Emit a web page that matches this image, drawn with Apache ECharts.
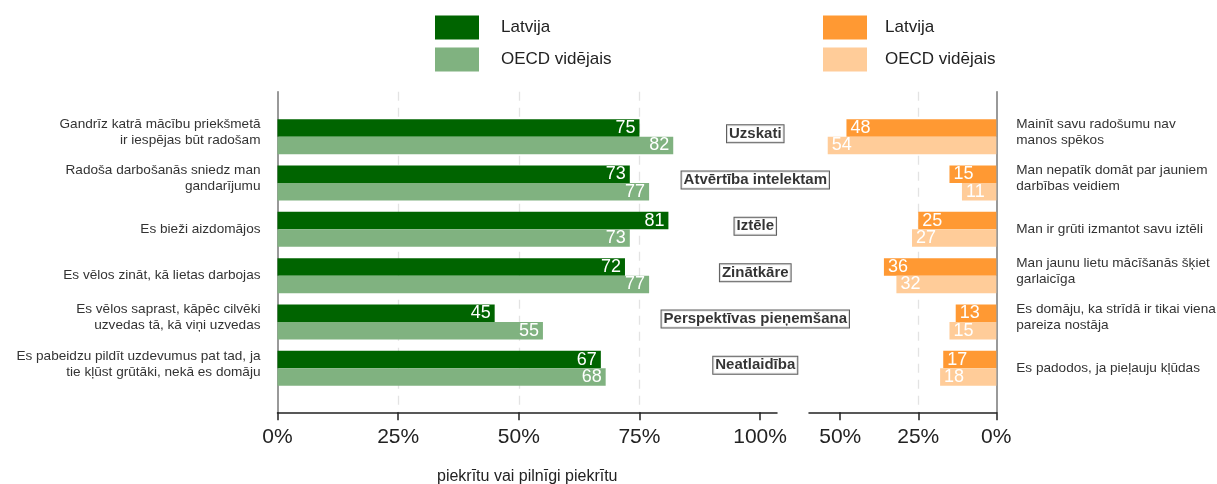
<!DOCTYPE html>
<html>
<head>
<meta charset="utf-8">
<script src="https://cdn.jsdelivr.net/npm/echarts@6/dist/echarts.min.js"></script>
<style>
  html, body { margin: 0; padding: 0; background: #fff; }
  #chart { width: 1217px; height: 484px; }
</style>
</head>
<body>
<div id="chart"></div>
<script>
// pozitīvie apgalvojumi (kreisā puse)
const posStatements = [
    'Gandrīz katrā mācību priekšmetā\nir iespējas būt radošam',
    'Radoša darbošanās sniedz man\ngandarījumu',
    'Es bieži aizdomājos',
    'Es vēlos zināt, kā lietas darbojas',
    'Es vēlos saprast, kāpēc cilvēki\nuzvedas tā, kā viņi uzvedas',
    'Es pabeidzu pildīt uzdevumus pat tad, ja\ntie kļūst grūtāki, nekā es domāju'
];
const posLatvija = [75, 73, 81, 72, 45, 67];
const posOecd = [82, 77, 73, 77, 55, 68];

// negatīvie apgalvojumi (labā puse)
const negStatements = [
    'Mainīt savu radošumu nav\nmanos spēkos',
    'Man nepatīk domāt par jauniem\ndarbības veidiem',
    'Man ir grūti izmantot savu iztēli',
    'Man jaunu lietu mācīšanās šķiet\ngarlaicīga',
    'Es domāju, ka strīdā ir tikai viena\npareiza nostāja',
    'Es padodos, ja pieļauju kļūdas'
];
const negLatvija = [48, 15, 25, 36, 13, 17];
const negOecd = [54, 11, 27, 32, 15, 18];

// dimensiju nosaukumi vidū
const dimensions = ['Uzskati', 'Atvērtība intelektam', 'Iztēle', 'Zinātkāre', 'Perspektīvas pieņemšana', 'Neatlaidība'];

const leftTicks = [0, 25, 50, 75, 100];
const rightTicks = [0, 25, 50];

const GREEN = '#006400';
const GREEN_LIGHT = '#80b280';
const ORANGE = '#ff9933';
const ORANGE_LIGHT = '#ffcc99';
const SANS = "'Liberation Sans', Arial, sans-serif";

const chart = echarts.init(document.getElementById('chart'));

const splitLine = {
    show: true,
    showMinLine: false,
    showMaxLine: false,
    lineStyle: { color: '#e3e3e3', width: 1.3, type: [9, 7] }
};

// divrindu etiķetes nedaudz paceltas uz augšu
function statementLabel(v) {
    return v.indexOf('\n') >= 0 ? v + '\n{s| }' : v;
}

function axisGridX(gridIndex, max, inverse, ticks, withName) {
    return {
        type: 'value',
        gridIndex: gridIndex,
        min: 0,
        max: max,
        inverse: inverse,
        position: 'bottom',
        axisLine: { show: true, lineStyle: { color: '#222', width: 1.5 } },
        axisTick: { show: true, length: 8, customValues: ticks, lineStyle: { color: '#222', width: 1.5 } },
        axisLabel: {
            customValues: ticks,
            formatter: v => v + '%',
            fontFamily: SANS,
            fontSize: 21,
            color: '#222',
            margin: 14
        },
        splitLine: Object.assign({}, splitLine, { customValues: ticks }),
        name: withName ? 'piekrītu vai pilnīgi piekrītu' : '',
        nameLocation: 'middle',
        nameGap: 56,
        nameTextStyle: { fontFamily: SANS, fontSize: 16, color: '#222' }
    };
}

function dataGridX(gridIndex, max, inverse) {
    return {
        type: 'value', gridIndex: gridIndex, min: 0, max: max, inverse: inverse,
        show: false, splitLine: { show: false }
    };
}

const barLabel = (pos) => ({
    show: true,
    position: pos,
    distance: 4,
    color: '#fff',
    fontFamily: SANS,
    fontSize: 18
});

const catLabel = (margin, align) => ({
    margin: margin,
    fontFamily: SANS,
    fontSize: 13.6,
    lineHeight: 16,
    color: '#333',
    align: align,
    formatter: statementLabel,
    rich: { s: { fontSize: 6, lineHeight: 9 } }
});

const gridBase = { outerBoundsMode: 'none', containLabel: false };

const option = {
    backgroundColor: '#fff',
    animation: false,
    legend: [
        {
            left: 435, top: 15.5, orient: 'vertical', padding: 0,
            icon: 'rect', itemWidth: 44, itemHeight: 24, itemGap: 8,
            selectedMode: false,
            textStyle: { fontFamily: SANS, fontSize: 17, color: '#222', padding: [0, 0, 0, 17] },
            data: [
                { name: 'Latvija', itemStyle: { color: GREEN } },
                { name: 'OECD vidējais', itemStyle: { color: GREEN_LIGHT } }
            ]
        },
        {
            left: 823, top: 15.5, orient: 'vertical', padding: 0,
            icon: 'rect', itemWidth: 44, itemHeight: 24, itemGap: 8,
            selectedMode: false,
            textStyle: { fontFamily: SANS, fontSize: 17, color: '#222', padding: [0, 0, 0, 13] },
            data: [
                { name: 'Latvija', itemStyle: { color: ORANGE } },
                { name: 'OECD vidējais', itemStyle: { color: ORANGE_LIGHT } }
            ]
        }
    ],
    grid: [
        // asu režģi
        Object.assign({ left: 277.5, width: 499.5, top: 91.7, height: 320.6 }, gridBase),
        Object.assign({ left: 809, width: 187.3, top: 91.7, height: 320.6 }, gridBase),
        // datu režģi
        Object.assign({ left: 277.5, width: 499.5, top: 113.5, height: 278 }, gridBase),
        Object.assign({ left: 809, width: 187.3, top: 113.5, height: 278 }, gridBase)
    ],
    xAxis: [
        axisGridX(0, 103.5, false, leftTicks, true),
        axisGridX(1, 60, true, rightTicks, false),
        dataGridX(2, 103.5, false),
        dataGridX(3, 60, true)
    ],
    yAxis: [
        {
            type: 'value', gridIndex: 0, position: 'left',
            axisLine: { show: true, lineStyle: { color: '#777', width: 1.5 } },
            axisTick: { show: false }, axisLabel: { show: false }, splitLine: { show: false }
        },
        {
            type: 'value', gridIndex: 1, position: 'right',
            axisLine: { show: true, lineStyle: { color: '#777', width: 1.5 } },
            axisTick: { show: false }, axisLabel: { show: false }, splitLine: { show: false }
        },
        {
            type: 'category', gridIndex: 2, position: 'left', inverse: true,
            data: posStatements,
            axisLine: { show: false }, axisTick: { show: false },
            axisLabel: catLabel(17, 'right')
        },
        {
            type: 'category', gridIndex: 3, position: 'right', inverse: true,
            data: negStatements,
            axisLine: { show: false }, axisTick: { show: false },
            axisLabel: catLabel(20, 'left')
        }
    ],
    series: [
        {
            name: 'Latvija', type: 'bar', xAxisIndex: 2, yAxisIndex: 2,
            data: posLatvija, barWidth: 17.5, barGap: '0%',
            itemStyle: { color: GREEN },
            label: barLabel('insideRight')
        },
        {
            name: 'OECD vidējais', type: 'bar', xAxisIndex: 2, yAxisIndex: 2,
            data: posOecd, barWidth: 17.5, barGap: '0%',
            itemStyle: { color: GREEN_LIGHT },
            label: barLabel('insideRight')
        },
        {
            name: 'Latvija', type: 'bar', xAxisIndex: 3, yAxisIndex: 3,
            data: negLatvija, barWidth: 17.5, barGap: '0%',
            itemStyle: { color: ORANGE },
            label: barLabel('insideLeft')
        },
        {
            name: 'OECD vidējais', type: 'bar', xAxisIndex: 3, yAxisIndex: 3,
            data: negOecd, barWidth: 17.5, barGap: '0%',
            itemStyle: { color: ORANGE_LIGHT },
            label: barLabel('insideLeft')
        },
        {
            name: 'dimensijas', type: 'scatter', xAxisIndex: 2, yAxisIndex: 2,
            symbolSize: 0, z: 5,
            data: dimensions.map((d, i) => ({ value: [99, i], name: d })),
            label: {
                show: true,
                position: 'inside',
                offset: [0, -3],
                formatter: p => p.name,
                fontFamily: SANS,
                fontWeight: 'bold',
                fontSize: 15,
                color: '#000',
                backgroundColor: '#fff',
                borderColor: '#333',
                borderWidth: 1,
                padding: [1, 2, 1, 2]
            }
        }
    ]
};

chart.setOption(option);
</script>
</body>
</html>
